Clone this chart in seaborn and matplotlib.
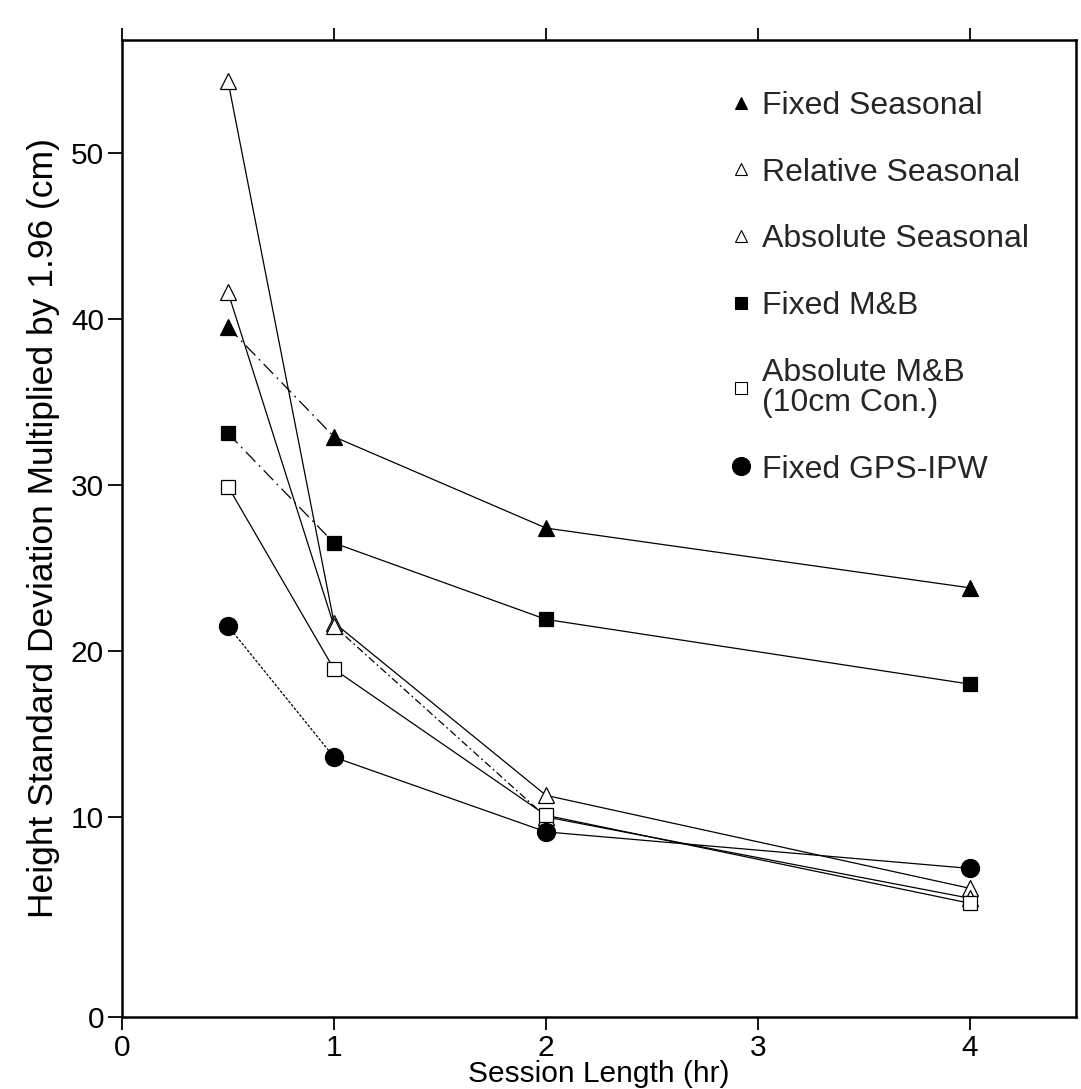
import matplotlib
matplotlib.use("Agg")
import matplotlib.pyplot as plt
import seaborn as sns
import pandas as pd
from matplotlib.lines import Line2D

# ---------------- data ----------------
session_hr = [0.5, 1, 2, 4]
fixed_seasonal = [39.5, 32.9, 27.4, 23.8]
relative_seasonal = [54.3, 21.7, 11.3, 5.7]
absolute_seasonal = [41.6, 21.5, 10.0, 5.1]
fixed_mb = [33.1, 26.5, 21.9, 18.0]
absolute_mb = [29.9, 18.9, 10.1, 4.8]
fixed_gps_ipw = [21.5, 13.6, 9.1, 6.9]

series_names = ["Fixed Seasonal", "Relative Seasonal", "Absolute Seasonal",
                "Fixed M&B", "Absolute M&B\n(10cm Con.)", "Fixed GPS-IPW"]
series_values = [fixed_seasonal, relative_seasonal, absolute_seasonal,
                 fixed_mb, absolute_mb, fixed_gps_ipw]

x_ticks = [0, 1, 2, 3, 4]
y_ticks = [10, 20, 30, 40, 50]
y_tick_labels = ["10", "20", "30", "40", "50"]

# ---------------- styles ----------------
dashdot = (0, (11, 4, 1.5, 4))
dotted = (0, (2.2, 1.3))
dashed = (0, (6, 2.5, 1.5, 2.5))
styles = {
    "Fixed Seasonal": dict(marker="^", mfc="black", ms=12, seg=[dashdot, "-", "-"]),
    "Relative Seasonal": dict(marker="^", mfc="white", ms=12, seg=["-", "-", "-"]),
    "Absolute Seasonal": dict(marker="^", mfc="white", ms=12, seg=["-", dashed, "-"]),
    "Fixed M&B": dict(marker="s", mfc="black", ms=10, seg=[dashdot, "-", "-"]),
    "Absolute M&B\n(10cm Con.)": dict(marker="s", mfc="white", ms=10, seg=["-", "-", "-"]),
    "Fixed GPS-IPW": dict(marker="o", mfc="black", ms=13, seg=[dotted, "-", "-"]),
}
legend_ms = {"^": 9, "s": 8, "o": 13}

rows = []
for name, vals in zip(series_names, series_values):
    for x, y in zip(session_hr, vals):
        rows.append(dict(series=name, hr=x, sd=y))
df = pd.DataFrame(rows)

sns.set_theme(style="ticks")
plt.rcParams["font.family"] = ["Liberation Sans", "DejaVu Sans"]

fig = plt.figure(figsize=(10.81, 10.89), dpi=100)
ax = fig.add_axes([0.1129, 0.0661, 0.9954 - 0.1129, 0.9633 - 0.0661])

for name in series_names:
    st = styles[name]
    sub = df[df["series"] == name].reset_index(drop=True)
    for i in range(len(sub) - 1):
        seg = sub.iloc[i:i + 2]
        sns.lineplot(data=seg, x="hr", y="sd", ax=ax, color="black", lw=0.9,
                     linestyle=st["seg"][i], estimator=None, sort=False,
                     legend=False, zorder=2)

for name in series_names:
    st = styles[name]
    sub = df[df["series"] == name]
    sns.lineplot(data=sub, x="hr", y="sd", ax=ax, color="black", linestyle="none",
                 marker=st["marker"], markersize=st["ms"], markerfacecolor=st["mfc"],
                 markeredgecolor="black", markeredgewidth=0.9,
                 estimator=None, sort=False, legend=False, zorder=3)

ax.set_xlim(0, 4.5)
ax.set_ylim(-2.05, 56.8)
ax.set_xticks(x_ticks)
ax.set_xticklabels([str(t) for t in x_ticks])
ax.set_yticks([-2.05] + y_ticks)
ax.set_yticklabels(["0"] + y_tick_labels)

for side in ["left", "right", "top", "bottom"]:
    ax.spines[side].set_visible(True)
    ax.spines[side].set_linewidth(1.8)
    ax.spines[side].set_color("black")

ax.tick_params(axis="both", direction="out", length=9, width=1.3, colors="black",
               labelsize=21.5, labelcolor="black")
ax.tick_params(axis="x", top=True, labeltop=False, bottom=True, pad=3)
ax.tick_params(axis="y", left=True, right=False, pad=3, length=10)

ax.set_xlabel("Session Length (hr)", fontsize=21.5, labelpad=-1, color="black")
ax.set_ylabel("Height Standard Deviation Multiplied by 1.96 (cm)", fontsize=25.5,
              labelpad=8, color="black")

handles = []
for name in series_names:
    st = styles[name]
    handles.append(Line2D([], [], linestyle="none", marker=st["marker"],
                          markersize=legend_ms[st["marker"]],
                          markerfacecolor=st["mfc"], markeredgecolor="black",
                          markeredgewidth=0.8))
leg = ax.legend(handles, series_names, loc="upper left",
                bbox_to_anchor=(0.622, 0.961), frameon=False, fontsize=23,
                handlelength=0.8, handletextpad=0.25, labelspacing=1.15,
                borderaxespad=0)
for t in leg.get_texts():
    t.set_linespacing(1.0)

fig.savefig("out.png", dpi=100)
